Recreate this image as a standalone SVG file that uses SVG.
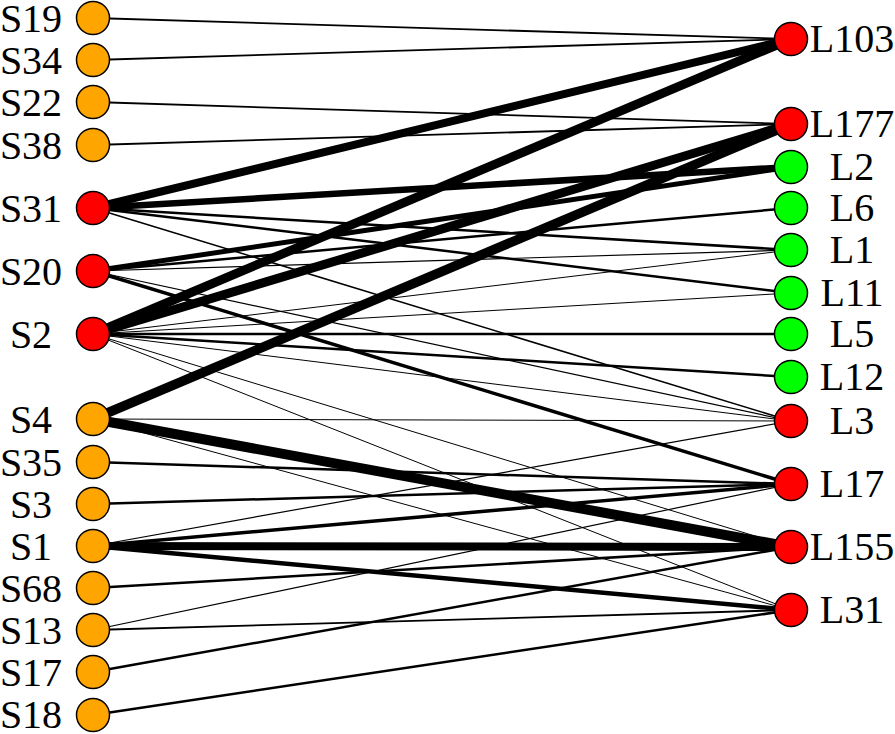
<svg xmlns="http://www.w3.org/2000/svg" width="895" height="734" viewBox="0 0 895 734">
<style>
.e{stroke:#000;fill:none;stroke-linecap:butt}
.n circle{stroke:#000;stroke-width:1.5}
.o{fill:#FFA500}.r{fill:#FF0000}.g{fill:#00FF00}
text{font-family:'Liberation Serif','DejaVu Serif','Times New Roman',Times,serif;font-size:40px;fill:#000;text-anchor:middle}
</style>
<rect width="895" height="734" fill="#fff"/>
<g id="edges">
<line class="e" x1="93" y1="18" x2="791" y2="39" stroke-width="1.8"/>
<line class="e" x1="93" y1="60" x2="791" y2="39" stroke-width="1.8"/>
<line class="e" x1="93" y1="102" x2="791" y2="124" stroke-width="1.8"/>
<line class="e" x1="93" y1="145" x2="791" y2="124" stroke-width="1.8"/>
<line class="e" x1="93" y1="208" x2="791" y2="39" stroke-width="8"/>
<line class="e" x1="93" y1="208" x2="791" y2="167" stroke-width="6.5"/>
<line class="e" x1="93" y1="208" x2="791" y2="250" stroke-width="2.5"/>
<line class="e" x1="93" y1="208" x2="791" y2="293" stroke-width="2.5"/>
<line class="e" x1="93" y1="208" x2="791" y2="421" stroke-width="1.5"/>
<line class="e" x1="93" y1="271" x2="791" y2="167" stroke-width="5"/>
<line class="e" x1="93" y1="271" x2="791" y2="208" stroke-width="2.5"/>
<line class="e" x1="93" y1="271" x2="791" y2="250" stroke-width="1.2"/>
<line class="e" x1="93" y1="271" x2="791" y2="421" stroke-width="1.2"/>
<line class="e" x1="93" y1="271" x2="791" y2="484" stroke-width="3.5"/>
<line class="e" x1="93" y1="334" x2="791" y2="39" stroke-width="9"/>
<line class="e" x1="93" y1="334" x2="791" y2="124" stroke-width="9"/>
<line class="e" x1="93" y1="334" x2="791" y2="250" stroke-width="1"/>
<line class="e" x1="93" y1="334" x2="791" y2="293" stroke-width="1"/>
<line class="e" x1="93" y1="334" x2="791" y2="334" stroke-width="2.5"/>
<line class="e" x1="93" y1="334" x2="791" y2="377" stroke-width="2.5"/>
<line class="e" x1="93" y1="334" x2="791" y2="421" stroke-width="1"/>
<line class="e" x1="93" y1="334" x2="791" y2="547" stroke-width="1"/>
<line class="e" x1="93" y1="334" x2="791" y2="610" stroke-width="1"/>
<line class="e" x1="93" y1="419" x2="791" y2="124" stroke-width="9.5"/>
<line class="e" x1="93" y1="419" x2="791" y2="421" stroke-width="1"/>
<line class="e" x1="93" y1="419" x2="791" y2="547" stroke-width="10"/>
<line class="e" x1="93" y1="419" x2="791" y2="610" stroke-width="1"/>
<line class="e" x1="93" y1="462" x2="791" y2="484" stroke-width="2.5"/>
<line class="e" x1="93" y1="504" x2="791" y2="484" stroke-width="2.5"/>
<line class="e" x1="93" y1="546" x2="791" y2="421" stroke-width="1.2"/>
<line class="e" x1="93" y1="546" x2="791" y2="484" stroke-width="3.5"/>
<line class="e" x1="93" y1="546" x2="791" y2="547" stroke-width="8"/>
<line class="e" x1="93" y1="546" x2="791" y2="610" stroke-width="4.5"/>
<line class="e" x1="93" y1="588" x2="791" y2="547" stroke-width="2.5"/>
<line class="e" x1="93" y1="630" x2="791" y2="484" stroke-width="1.2"/>
<line class="e" x1="93" y1="630" x2="791" y2="610" stroke-width="1.8"/>
<line class="e" x1="93" y1="672" x2="791" y2="547" stroke-width="2.5"/>
<line class="e" x1="93" y1="715" x2="791" y2="610" stroke-width="2.5"/>
</g>
<g id="S19" class="n"><circle class="o" cx="93" cy="18" r="16.5"/><text x="31" y="32" font-family="Liberation Serif, serif">S19</text></g>
<g id="S34" class="n"><circle class="o" cx="93" cy="60" r="16.5"/><text x="31" y="74" font-family="Liberation Serif, serif">S34</text></g>
<g id="S22" class="n"><circle class="o" cx="93" cy="102" r="16.5"/><text x="31" y="116" font-family="Liberation Serif, serif">S22</text></g>
<g id="S38" class="n"><circle class="o" cx="93" cy="145" r="16.5"/><text x="31" y="159" font-family="Liberation Serif, serif">S38</text></g>
<g id="S31" class="n"><circle class="r" cx="93" cy="208" r="16.5"/><text x="31" y="222" font-family="Liberation Serif, serif">S31</text></g>
<g id="S20" class="n"><circle class="r" cx="93" cy="271" r="16.5"/><text x="31" y="285" font-family="Liberation Serif, serif">S20</text></g>
<g id="S2" class="n"><circle class="r" cx="93" cy="334" r="16.5"/><text x="31" y="348" font-family="Liberation Serif, serif">S2</text></g>
<g id="S4" class="n"><circle class="o" cx="93" cy="419" r="16.5"/><text x="31" y="433" font-family="Liberation Serif, serif">S4</text></g>
<g id="S35" class="n"><circle class="o" cx="93" cy="462" r="16.5"/><text x="31" y="476" font-family="Liberation Serif, serif">S35</text></g>
<g id="S3" class="n"><circle class="o" cx="93" cy="504" r="16.5"/><text x="31" y="518" font-family="Liberation Serif, serif">S3</text></g>
<g id="S1" class="n"><circle class="o" cx="93" cy="546" r="16.5"/><text x="31" y="560" font-family="Liberation Serif, serif">S1</text></g>
<g id="S68" class="n"><circle class="o" cx="93" cy="588" r="16.5"/><text x="31" y="602" font-family="Liberation Serif, serif">S68</text></g>
<g id="S13" class="n"><circle class="o" cx="93" cy="630" r="16.5"/><text x="31" y="644" font-family="Liberation Serif, serif">S13</text></g>
<g id="S17" class="n"><circle class="o" cx="93" cy="672" r="16.5"/><text x="31" y="686" font-family="Liberation Serif, serif">S17</text></g>
<g id="S18" class="n"><circle class="o" cx="93" cy="715" r="16.5"/><text x="31" y="728" font-family="Liberation Serif, serif">S18</text></g>
<g id="L103" class="n"><circle class="r" cx="791" cy="39" r="16.5"/><text x="852" y="52" font-family="Liberation Serif, serif">L103</text></g>
<g id="L177" class="n"><circle class="r" cx="791" cy="124" r="16.5"/><text x="852" y="137" font-family="Liberation Serif, serif">L177</text></g>
<g id="L2" class="n"><circle class="g" cx="791" cy="167" r="16.5"/><text x="852" y="180" font-family="Liberation Serif, serif">L2</text></g>
<g id="L6" class="n"><circle class="g" cx="791" cy="208" r="16.5"/><text x="852" y="221" font-family="Liberation Serif, serif">L6</text></g>
<g id="L1" class="n"><circle class="g" cx="791" cy="250" r="16.5"/><text x="852" y="263" font-family="Liberation Serif, serif">L1</text></g>
<g id="L11" class="n"><circle class="g" cx="791" cy="293" r="16.5"/><text x="852" y="306" font-family="Liberation Serif, serif">L11</text></g>
<g id="L5" class="n"><circle class="g" cx="791" cy="334" r="16.5"/><text x="852" y="347" font-family="Liberation Serif, serif">L5</text></g>
<g id="L12" class="n"><circle class="g" cx="791" cy="377" r="16.5"/><text x="852" y="390" font-family="Liberation Serif, serif">L12</text></g>
<g id="L3" class="n"><circle class="r" cx="791" cy="421" r="16.5"/><text x="852" y="434" font-family="Liberation Serif, serif">L3</text></g>
<g id="L17" class="n"><circle class="r" cx="791" cy="484" r="16.5"/><text x="852" y="497" font-family="Liberation Serif, serif">L17</text></g>
<g id="L155" class="n"><circle class="r" cx="791" cy="547" r="16.5"/><text x="852" y="560" font-family="Liberation Serif, serif">L155</text></g>
<g id="L31" class="n"><circle class="r" cx="791" cy="610" r="16.5"/><text x="852" y="623" font-family="Liberation Serif, serif">L31</text></g>
</svg>
